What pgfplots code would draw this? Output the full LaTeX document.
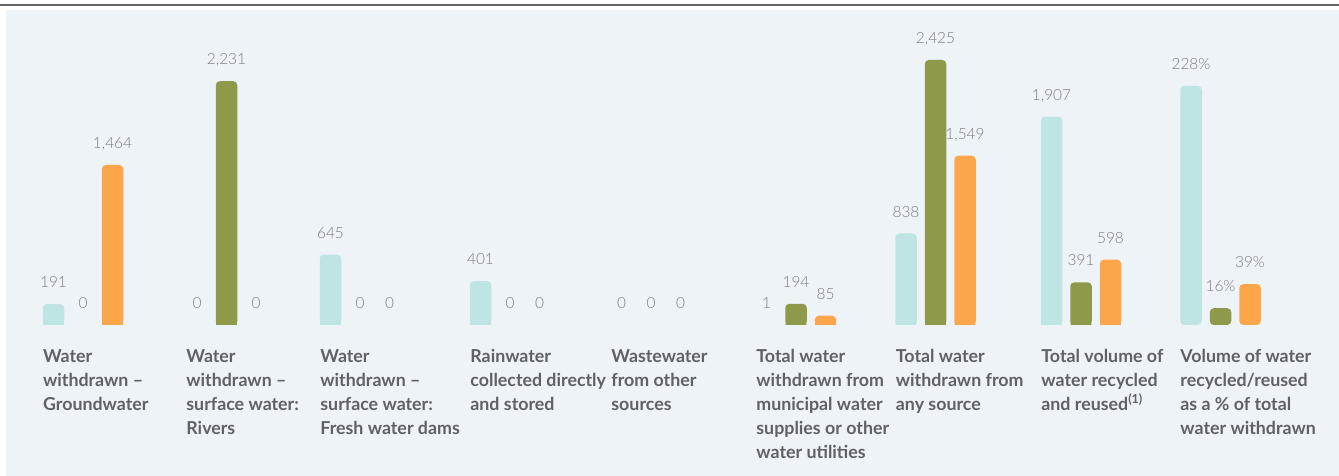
\documentclass[border=0pt]{standalone}
\usepackage{pgfplots}
\pgfplotsset{compat=1.18}
\usepackage{pgfplotstable}
\usepackage{fontspec}
\setmainfont{Lato}
\newfontfamily\numfont{Lato Light}
\definecolor{cyanbar}{RGB}{190,228,228}
\definecolor{olivebar}{RGB}{142,153,74}
\definecolor{orangebar}{RGB}{251,166,74}
\definecolor{panel}{RGB}{238,243,248}
\definecolor{rulegray}{RGB}{100,100,102}
\definecolor{numgray}{RGB}{122,125,130}
\definecolor{catgray}{RGB}{94,97,102}

% volumes (x = centre of the middle bar of each group, in picture pixels)
\pgfplotstableread{
x      a     b     c
83     191   0     1464
226.5  0     2231  0
360    645   0     0
510    401   0     0
651    0     0     0
796    1     194   85
935.5  838   2425  1549
1081   1907  391   598
}\volumes
% percentage
\pgfplotstableread{
x      a     b     c
1220.5 228   16    39
}\percent

\pgfplotsset{
  barax/.style={
    at={(0pt,75.5pt)}, anchor=south west, scale only axis,
    width=669.5pt, height=150pt, xmin=0, xmax=1339, ymin=0,
    axis lines=none, clip=false, ybar, bar width=10.75pt,
    every axis plot/.append style={draw=none},
  },
  % visible bars: values too small to show a pixel are left out
  vis/.style={y filter/.expression={y<5 ? nan : y}},
  foot/.style={vis, bar width=10.45pt},
  top/.style={vis, rounded corners=2pt},
  labbase/.style={fill=none, draw=none, point meta=rawy,
    nodes near coords style={anchor=base, yshift=8.2pt, inner sep=0pt,
      font=\numfont\fontsize{7.7pt}{9pt}\selectfont, text=numgray}},
  lab/.style={labbase, nodes near coords={\pgfmathprintnumber[fixed,precision=0,1000 sep={,},assume math mode=true]{\pgfplotspointmeta}}},
  labp/.style={labbase, nodes near coords={\pgfmathprintnumber[fixed,precision=0,assume math mode=true]{\pgfplotspointmeta}\%}},
  sA/.style={fill=cyanbar, bar shift=-14.75pt},
  sB/.style={fill=olivebar, bar shift=0pt},
  sC/.style={fill=orangebar, bar shift=14.75pt},
}

\begin{document}
\begin{tikzpicture}[x=0.5pt,y=0.5pt]
\useasboundingbox (0,0) rectangle (1339,476);
\fill[panel] (6,0) rectangle (1339,466);
\fill[rulegray] (0,470.2) rectangle (1339,471.8);

\begin{axis}[barax, ymax=2745]
% square feet under the rounded bars
\addplot[sA, foot] table[x=x,y expr={min(\thisrow{a},40)}] {\volumes};
\addplot[sB, foot] table[x=x,y expr={min(\thisrow{b},40)}] {\volumes};
\addplot[sC, foot] table[x=x,y expr={min(\thisrow{c},40)}] {\volumes};
% bars with rounded tops
\addplot[sA, top] table[x=x,y=a] {\volumes};
\addplot[sB, top] table[x=x,y=b] {\volumes};
\addplot[sC, top] table[x=x,y=c] {\volumes};
% value labels
\addplot[sA, lab] table[x=x,y=a] {\volumes};
\addplot[sB, lab] table[x=x,y=b] {\volumes};
\addplot[sC, lab] table[x=x,y=c] {\volumes};
\end{axis}

\begin{axis}[barax, ymax=286]
\addplot[sA, foot] table[x=x,y expr={min(\thisrow{a},4.2)}] {\percent};
\addplot[sB, foot] table[x=x,y expr={min(\thisrow{b},4.2)}] {\percent};
\addplot[sC, foot] table[x=x,y expr={min(\thisrow{c},4.2)}] {\percent};
\addplot[sA, top] table[x=x,y=a] {\percent};
\addplot[sB, top] table[x=x,y=b] {\percent};
\addplot[sC, top] table[x=x,y=c] {\percent};
\addplot[sA, labp] table[x=x,y=a] {\percent};
\addplot[sB, labp] table[x=x,y=b] {\percent};
\addplot[sC, labp] table[x=x,y=c] {\percent};
\end{axis}

\tikzset{cat/.style={anchor=north west, inner sep=0pt, align=left, text=catgray,
  font=\bfseries\fontsize{8.9pt}{12pt}\selectfont}}
\node[cat] at (42.7,126.7) {Water\\withdrawn –\\Groundwater};
\node[cat] at (186,126.7) {Water\\withdrawn –\\surface water:\\Rivers};
\node[cat] at (320,126.7) {Water\\withdrawn –\\surface water:\\Fresh water dams};
\node[cat] at (470,126.7) {Rainwater\\collected directly\\and stored};
\node[cat] at (611,126.7) {Wastewater\\from other\\sources};
\node[cat] at (756,126.7) {Total water\\withdrawn from\\municipal water\\supplies or other\\water utilities};
\node[cat] at (895.5,126.7) {Total water\\withdrawn from\\any source};
\node[cat] at (1041,126.7) {Total volume of\\water recycled\\and reused\textsuperscript{(1)}};
\node[cat] at (1180,126.7) {Volume of water\\recycled/reused\\as a \% of total\\water withdrawn};
\end{tikzpicture}
\end{document}
